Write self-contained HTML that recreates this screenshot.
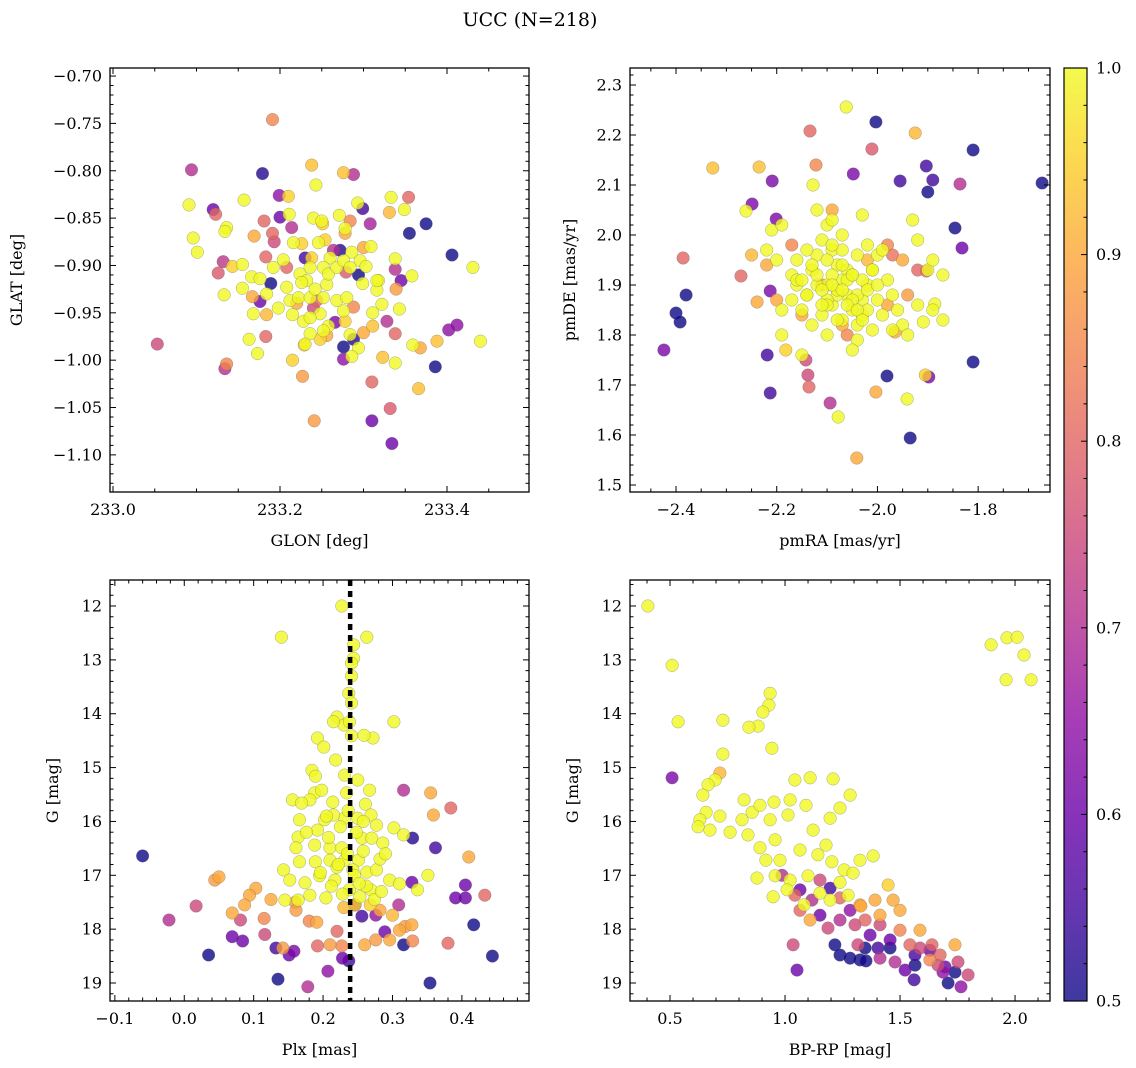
<!DOCTYPE html>
<html><head><meta charset="utf-8">
<style>
html,body{margin:0;padding:0;background:#fff;}
svg{display:block;font-family:"DejaVu Serif","Liberation Serif",serif;}
</style></head>
<body>
<svg id="fig" width="1136" height="1068" viewBox="0 0 1136 1068" xmlns="http://www.w3.org/2000/svg">
<defs>
<linearGradient id="plasmaGrad" x1="0" y1="1" x2="0" y2="0">
<stop offset="0" stop-color="#0d0887"/><stop offset="0.1" stop-color="#41049d"/><stop offset="0.2" stop-color="#6a00a8"/><stop offset="0.3" stop-color="#8f0da4"/><stop offset="0.4" stop-color="#b12a90"/><stop offset="0.5" stop-color="#cc4778"/><stop offset="0.6" stop-color="#e16462"/><stop offset="0.7" stop-color="#f2844b"/><stop offset="0.8" stop-color="#fca636"/><stop offset="0.9" stop-color="#fcce25"/><stop offset="1" stop-color="#f0f921"/>
</linearGradient>
</defs>
<text x="530" y="26" font-size="19" text-anchor="middle">UCC (N=218)</text>
</svg>
<script>
// Panel 1: GLON, GLAT, membership prob
const p1Lon=[233.191,233.094,233.179,233.238,233.243,233.276,233.288,233.091,233.120,233.123,233.157,233.199,233.210,233.200,233.211,233.214,233.181,233.169,233.191,233.193,233.136,233.134,233.096,233.101,233.240,233.250,233.271,233.284,233.278,233.278,233.293,233.299,233.308,233.333,233.354,233.331,233.349,233.375,233.355,233.406,233.431,233.440,233.402,233.412,233.388,233.368,233.359,233.386,233.366,233.338,233.328,233.338,233.323,233.310,233.332,233.310,233.334,233.241,233.227,233.215,233.229,233.173,233.163,233.183,233.136,233.134,233.053,233.133,233.132,233.126,233.143,233.155,233.183,233.192,233.204,233.208,233.230,233.238,233.216,233.226,233.246,233.254,233.251,233.264,233.272,233.286,233.300,233.309,233.296,233.303,233.338,233.338,233.345,233.358,233.294,233.279,233.299,233.318,233.316,233.339,233.189,233.176,233.167,233.155,233.166,233.176,233.168,233.184,233.198,233.215,233.228,233.184,233.208,233.212,233.222,233.236,233.244,233.252,233.256,233.260,233.252,233.236,233.224,233.232,233.242,233.258,233.268,233.276,233.284,233.268,233.280,233.276,233.288,233.278,233.266,233.258,233.252,233.248,233.236,233.236,233.230,233.248,233.256,233.284,233.288,233.294,233.276,233.276,233.286,233.300,233.311,233.311,233.322,233.343,233.316,233.220,233.226,233.240];
const p1Lat=[-0.746,-0.799,-0.803,-0.794,-0.815,-0.802,-0.804,-0.836,-0.841,-0.846,-0.831,-0.826,-0.827,-0.849,-0.846,-0.860,-0.853,-0.869,-0.866,-0.875,-0.860,-0.864,-0.871,-0.886,-0.850,-0.853,-0.847,-0.853,-0.861,-0.866,-0.834,-0.840,-0.856,-0.828,-0.828,-0.844,-0.841,-0.856,-0.866,-0.889,-0.902,-0.980,-0.968,-0.963,-0.980,-0.987,-0.984,-1.007,-1.030,-0.972,-0.959,-1.003,-0.997,-1.023,-1.051,-1.064,-1.088,-1.064,-1.017,-1.000,-0.984,-0.993,-0.978,-0.975,-1.004,-1.009,-0.983,-0.931,-0.896,-0.908,-0.901,-0.899,-0.891,-0.902,-0.894,-0.902,-0.892,-0.892,-0.876,-0.877,-0.876,-0.873,-0.856,-0.884,-0.884,-0.886,-0.881,-0.880,-0.895,-0.901,-0.893,-0.904,-0.916,-0.911,-0.910,-0.907,-0.919,-0.916,-0.926,-0.925,-0.919,-0.938,-0.933,-0.924,-0.912,-0.914,-0.951,-0.952,-0.945,-0.952,-0.959,-0.930,-0.923,-0.937,-0.934,-0.934,-0.937,-0.934,-0.920,-0.892,-0.902,-0.902,-0.909,-0.916,-0.925,-0.909,-0.902,-0.895,-0.902,-0.937,-0.934,-0.948,-0.944,-0.959,-0.960,-0.964,-0.969,-0.951,-0.955,-0.972,-0.983,-0.978,-0.974,-0.973,-0.978,-0.987,-0.986,-0.999,-0.996,-0.971,-0.964,-0.950,-0.941,-0.946,-0.916,-0.940,-0.918,-0.945];
const p1C=[0.85,0.70,0.52,0.93,1,0.93,0.70,1,0.60,0.80,1,0.65,0.95,0.60,1,0.70,0.80,0.90,0.80,0.75,1,1,1,1,1,1,1,0.85,1,0.90,1,0.55,0.68,1,0.80,0.92,1,0.50,0.50,0.50,1,1,0.65,0.65,0.93,0.90,1,0.50,0.93,0.80,0.70,1,0.93,0.80,0.78,0.60,0.60,0.88,0.88,0.95,0.95,1,1,0.80,0.85,0.70,0.75,1,0.72,0.78,0.95,1,0.80,1,1,0.80,0.55,0.95,1,0.95,1,0.95,0.95,0.70,0.52,1,0.90,1,1,1,1,0.70,0.60,1,0.50,0.78,1,1,1,0.88,0.50,0.60,0.90,1,1,1,1,0.92,1,1,1,1,1,1,1,1,0.80,1,1,1,1,1,1,1,1,1,1,1,1,1,1,1,0.85,0.95,0.62,1,1,1,1,1,1,0.95,0.90,1,0.52,1,0.50,0.65,1,0.90,0.93,1,1,1,1,0.90,1,0.75,1];

// Panel 2: pmRA, pmDE
const p2RA=[-2.062,-2.003,-1.925,-2.134,-1.810,-2.011,-2.327,-2.235,-2.122,-2.209,-1.955,-1.903,-1.890,-1.673,-1.836,-1.900,-2.048,-2.128,-2.249,-2.261,-1.846,-1.832,-2.201,-2.386,-2.271,-2.239,-2.213,-2.380,-2.400,-2.392,-2.424,-2.219,-2.213,-2.182,-2.142,-2.138,-2.136,-2.094,-2.078,-2.041,-2.003,-1.981,-1.941,-1.935,-1.905,-1.898,-1.810,-1.903,-1.886,-1.909,-1.965,
-2.22,-2.20,-2.17,-2.16,-2.14,-2.13,-2.12,-2.11,-2.10,-2.09,-2.08,-2.07,-2.06,-2.05,-2.04,-2.03,-2.02,-2.01,-2.00,-1.99,-1.98,-1.97,-1.96,-1.95,-2.09,-2.11,-2.13,-2.15,-2.17,-2.19,-2.10,-2.08,-2.06,-2.04,-2.02,-2.03,-2.07,-2.05,-2.03,-2.01,-1.99,-1.97,-2.12,-2.14,-2.16,-2.10,-2.07,-2.04,-2.00,-2.07,-1.93,-1.92,-1.90,-1.89,-1.89,-1.92,-1.87,-1.94,-1.87,-2.19,-2.15,-2.16,-2.12,-2.09,-2.05,-2.10,-2.02,-2.09,-2.21,-2.19,
-2.08,-2.06,-2.04,-2.10,-2.12,-2.05,-2.03,-2.07,-2.09,-2.11,-2.01,-2.13,-2.06,-2.08,-2.04,-2.02,-2.10,-2.14,-2.00,-2.05,-2.07,-2.11,-2.03,-2.09,-2.15,
-2.17,-2.25,-2.22,-2.15,-2.07,-2.06,-2.11,-1.98,-1.95,-1.98,-1.94,-1.92,-1.97,-2.20,-2.09,-2.02];
const p2DE=[2.256,2.226,2.204,2.208,2.170,2.172,2.134,2.136,2.140,2.108,2.108,2.138,2.110,2.104,2.102,2.086,2.122,2.100,2.062,2.048,2.014,1.974,2.032,1.954,1.918,1.866,1.888,1.880,1.844,1.826,1.770,1.760,1.684,1.770,1.750,1.720,1.696,1.664,1.636,1.554,1.686,1.718,1.672,1.594,1.720,1.716,1.746,1.928,1.862,1.826,1.806,
1.97,1.95,1.92,1.90,1.88,1.93,1.96,1.99,2.02,1.97,1.94,1.91,1.88,1.85,1.82,1.87,1.90,1.93,1.96,1.97,1.91,1.88,1.85,1.82,1.86,1.84,1.82,1.85,1.87,1.85,1.90,1.88,1.93,1.96,1.98,2.04,2.00,1.92,1.84,1.81,1.84,1.81,1.90,1.97,1.95,1.80,1.83,1.79,1.87,1.97,2.03,1.99,1.93,1.95,1.85,1.86,1.83,1.80,1.92,1.80,1.76,1.91,2.05,2.03,1.77,1.87,1.85,1.92,2.01,2.02,
1.89,1.91,1.88,1.86,1.92,1.87,1.91,1.94,1.90,1.89,1.93,1.94,1.86,1.83,1.85,1.89,1.95,1.88,1.90,1.92,1.89,1.86,1.83,1.98,1.91,
1.98,1.96,1.94,1.84,1.82,1.80,1.90,1.98,1.95,1.86,1.88,1.93,1.96,1.87,2.05,1.95];
const p2C=[1,0.50,0.92,0.80,0.50,0.78,0.93,0.93,0.85,0.62,0.55,0.55,0.55,0.50,0.70,0.50,0.62,1,0.62,1,0.50,0.60,0.62,0.80,0.80,0.90,0.62,0.50,0.50,0.50,0.62,0.55,0.55,0.95,0.75,0.75,0.80,0.70,1,0.90,0.90,0.50,1,0.50,0.95,0.62,0.50,0.80,1,1,0.90,
1,1,1,1,1,1,1,1,1,1,1,1,1,1,1,1,1,1,1,1,1,1,1,1,1,1,1,1,1,1,1,1,1,1,1,1,1,1,1,1,1,1,1,1,1,1,1,1,1,1,1,1,1,1,1,1,1,1,1,1,1,1,1,1,1,1,1,1,1,1,
1,1,1,1,1,1,1,1,1,1,1,1,1,1,1,1,1,1,1,1,1,1,1,1,1,
0.85,0.92,0.90,0.90,0.90,0.85,0.88,0.85,0.90,0.90,0.88,0.80,0.82,0.90,0.90,0.92];

// Panel 3: Plx, G
const p3Plx=[0.227,0.140,0.263,0.244,0.244,0.241,0.241,0.237,0.241,0.220,0.230,0.238,0.215,0.302,0.272,0.241,0.259,0.192,0.201,0.184,0.189,0.218,0.188,0.198,0.181,0.156,0.169,0.214,0.231,0.234,0.250,0.267,0.261,0.269,0.250,0.231,0.215,0.202,0.192,0.166,0.164,0.161,0.188,0.210,0.227,0.256,0.270,0.286,0.302,0.316,0.277,0.251,0.231,0.210,0.189,0.166,0.143,0.152,0.174,0.195,0.217,0.243,0.263,0.277,0.296,0.310,0.336,0.351,0.269,0.253,0.238,0.204,0.181,0.164,0.145,
0.225,0.235,0.248,0.258,0.208,0.220,0.245,0.262,0.282,0.196,0.212,0.228,0.252,0.274,0.290,0.176,0.236,0.258,0.222,0.205,0.268,0.284,0.246,0.230,
0.310,0.328,0.296,0.276,0.260,0.210,0.191,0.142,0.300,0.103,0.094,0.069,0.160,0.180,0.282,0.318,0.125,
-0.060,-0.022,0.017,0.035,0.044,0.050,0.069,0.084,0.081,0.087,0.132,0.135,0.151,0.158,0.161,0.178,0.207,0.192,0.220,0.227,0.228,0.237,0.246,0.256,0.276,0.289,0.309,0.328,0.329,0.329,0.362,0.359,0.355,0.316,0.384,0.410,0.405,0.433,0.405,0.417,0.444,0.354,0.316,0.380,0.391,0.115,0.116];
const p3G=[12.00,12.58,12.58,12.72,12.97,13.06,13.30,13.62,13.80,14.06,14.21,14.15,14.15,14.15,14.45,14.41,14.40,14.45,14.62,15.05,15.16,14.86,15.47,15.42,15.60,15.60,15.66,15.64,15.14,15.47,15.23,15.42,15.68,15.88,15.94,15.94,15.88,15.97,16.16,15.97,16.29,16.49,16.44,16.49,16.49,16.31,16.31,16.40,16.12,16.25,16.07,16.72,16.72,16.72,16.75,16.75,16.90,17.09,17.14,17.01,17.09,16.90,16.94,16.90,17.09,17.16,17.27,17.00,17.27,17.40,17.27,17.42,17.37,17.46,17.46,
16.10,16.60,16.20,16.55,16.30,16.85,17.00,17.20,16.70,16.95,17.20,17.35,17.15,17.45,16.60,16.20,15.80,16.00,16.80,15.90,17.55,17.30,17.55,17.60,
18.02,17.92,18.20,18.20,18.29,18.29,17.87,18.35,17.74,17.24,17.37,17.70,17.50,17.85,17.65,17.95,17.45,
16.64,17.83,17.57,18.48,17.09,17.03,18.14,18.22,17.83,17.55,18.35,18.93,18.48,18.41,17.65,19.07,18.78,18.31,18.04,18.31,18.54,18.59,17.55,17.76,17.74,18.05,17.55,17.13,18.22,16.31,16.49,15.88,15.47,15.42,15.75,16.66,17.18,17.37,17.42,17.92,18.50,19.00,18.29,18.26,17.42,17.80,18.10];
const p3C=[1,1,1,1,1,1,1,1,1,1,1,1,1,1,1,1,1,1,1,1,1,1,1,1,1,1,1,1,1,1,1,1,1,1,1,1,1,1,1,1,1,1,1,1,1,1,1,1,1,1,1,1,1,1,1,1,1,1,1,1,1,1,1,1,1,1,1,1,1,1,1,1,1,1,1,
1,1,1,1,1,1,1,1,1,1,1,1,1,1,1,1,1,1,1,1,0.95,1,0.95,0.92,
0.90,0.90,0.90,0.88,0.90,0.88,0.90,0.88,0.92,0.90,0.90,0.90,0.88,0.85,0.90,0.88,0.90,
0.50,0.70,0.75,0.50,0.88,0.90,0.60,0.60,0.75,0.90,0.55,0.50,0.60,0.62,0.88,0.70,0.65,0.80,0.80,0.85,0.60,0.55,0.60,0.55,0.65,0.60,0.70,0.60,0.85,0.52,0.55,0.90,0.90,0.70,0.80,0.90,0.60,0.80,0.60,0.50,0.50,0.50,0.50,0.80,0.60,0.85,0.75];

// Panel 4: BP-RP, G
const p4BR=[0.404,0.509,0.535,0.509,1.896,1.965,2.009,2.039,1.961,2.070,
0.935,0.930,0.904,0.883,0.943,0.843,0.730,0.730,0.717,0.696,0.665,0.643,0.657,0.630,0.622,0.674,0.761,0.717,0.822,0.813,0.839,0.857,0.891,0.952,1.022,1.043,1.109,1.209,1.091,1.013,0.935,0.957,0.891,0.917,0.978,1.065,1.122,1.196,1.239,1.283,1.143,1.178,1.204,1.100,1.022,0.957,0.878,1.009,1.152,1.257,1.239,1.296,1.326,1.383,1.326,1.448,1.470,1.500,0.948,1.083,1.109,1.196,1.274,1.330,1.413,
0.987,1.065,1.152,1.043,1.117,1.196,1.239,1.283,1.348,1.370,1.413,1.457,1.500,1.543,1.587,1.630,1.674,1.696,1.752,1.709,1.765,1.457,1.326,1.348,1.404,1.217,1.239,1.283,1.522,1.565,1.565,1.478,1.413,1.317,1.187,1.304,1.239,1.152,1.065,1.035,1.052,1.391,1.665,1.687,1.739,1.796,1.630,1.587,1.639,1.739,1.561,1.352];
const p4G=[12.00,13.10,14.15,15.19,12.72,12.59,12.58,12.91,13.37,13.37,
13.62,13.84,13.97,14.23,14.64,14.25,14.12,14.75,15.10,15.23,15.32,15.51,15.83,15.97,16.10,16.16,16.20,15.90,15.60,15.97,16.25,15.83,15.70,15.64,15.60,15.23,15.19,15.21,15.70,15.88,15.97,16.34,16.49,16.72,16.72,16.53,16.16,15.94,15.75,15.51,16.62,16.44,16.75,17.01,17.09,17.01,17.05,17.27,17.33,16.90,17.13,16.96,16.72,16.64,17.55,17.18,17.46,17.65,17.40,17.55,17.83,17.46,17.37,17.57,17.74,
17.00,17.27,17.09,17.37,17.46,17.24,17.42,17.65,17.83,18.11,17.92,18.20,18.02,18.29,18.35,18.39,18.48,18.70,18.61,19.00,19.07,18.35,18.57,18.35,18.35,18.29,18.48,18.54,18.76,18.67,18.48,18.61,18.54,18.29,17.98,17.92,17.83,17.74,17.65,18.29,18.76,17.46,18.67,18.80,18.80,18.85,18.57,18.02,18.29,18.29,18.94,18.59];
const p4C=[1,1,1,0.62,1,1,1,1,1,1,
1,1,1,1,1,1,1,1,0.92,1,1,1,1,1,1,1,1,1,1,1,1,1,1,1,1,1,1,1,1,1,1,1,1,1,1,1,1,1,1,1,1,1,1,1,1,1,1,1,1,1,1,1,1,1,0.90,0.95,0.90,0.90,1,1,0.90,1,1,0.90,0.90,
0.70,0.60,0.75,0.80,0.70,0.55,0.80,0.65,0.80,0.60,0.75,0.60,0.85,0.80,0.75,0.60,0.80,0.60,0.75,0.50,0.65,0.50,0.50,0.50,0.55,0.50,0.50,0.50,0.60,0.50,0.55,0.70,0.70,0.75,0.75,0.75,0.70,0.60,0.80,0.75,0.60,0.90,0.75,0.65,0.50,0.75,0.85,0.90,0.80,0.90,0.55,0.50];

const colorbarTicks=[0.5,0.6,0.7,0.8,0.9,1.0];

const NS='http://www.w3.org/2000/svg';
const svg=document.getElementById('fig');
function mk(tag,attrs,parent){const e=document.createElementNS(NS,tag);for(const k in attrs)e.setAttribute(k,attrs[k]);(parent||svg).appendChild(e);return e;}

const stops=[[13,8,135],[65,4,157],[106,0,168],[143,13,164],[177,42,144],[204,71,120],[225,100,98],[242,132,75],[252,166,54],[252,206,37],[240,249,33]];
function plasma(c){let t=(c-0.5)/0.5;t=Math.max(0,Math.min(1,t))*10;const i=Math.min(9,Math.floor(t)),f=t-i;const a=stops[i],b=stops[i+1];return 'rgb('+a.map((v,k)=>Math.round(v+(b[k]-v)*f)).join(',')+')';}

function panel(o){
  const g=mk('g',{});
  
  
  const sx=v=>o.x0+(v-o.xd[0])/(o.xd[1]-o.xd[0])*(o.x1-o.x0);
  const sy=v=>o.inv? o.y0+(v-o.yd[0])/(o.yd[1]-o.yd[0])*(o.y1-o.y0) : o.y1-(v-o.yd[0])/(o.yd[1]-o.yd[0])*(o.y1-o.y0);
  const pg=mk('g',{},g);
  
  
  const n=Math.min(o.xs.length,o.ys.length,o.c.length);
  const idx=[];for(let i=0;i<n;i++){if(isFinite(o.xs[i])&&isFinite(o.ys[i])&&isFinite(o.c[i]))idx.push(i);}
  idx.sort((a,b)=>o.c[a]-o.c[b]);
  idx.forEach(i=>{
    const c=mk('circle',{cx:sx(o.xs[i]).toFixed(1),cy:sy(o.ys[i]).toFixed(1),r:6.3,fill:plasma(o.c[i]),'fill-opacity':0.8,stroke:'#666','stroke-width':0.4,'stroke-opacity':0.7},pg);
    
    
  });
  if(o.vline!==undefined){
    const l=mk('line',{x1:sx(o.vline),x2:sx(o.vline),y1:o.y0,y2:o.y1,stroke:'#000','stroke-width':4.5,'stroke-dasharray':'6,5'},g);
    
    
  }
  const tg=mk('g',{stroke:'#000','stroke-width':1},g);
  const eps=1e-9;
  for(let v=Math.ceil(o.xd[0]/o.xmin-eps)*o.xmin; v<=o.xd[1]+eps; v+=o.xmin){
    const X=sx(v); const major=Math.abs(v/o.xmaj-Math.round(v/o.xmaj))<1e-6; const L=major?6:3.5;
    mk('line',{x1:X,x2:X,y1:o.y1,y2:o.y1-L},tg); mk('line',{x1:X,x2:X,y1:o.y0,y2:o.y0+L},tg);
    if(major){const t=mk('text',{x:X,y:o.y1+23,'font-size':16,'text-anchor':'middle',stroke:'none',fill:'#000'},g);t.textContent=o.xfmt(v);
      }
  }
  for(let v=Math.ceil(o.yd[0]/o.ymin-eps)*o.ymin; v<=o.yd[1]+eps; v+=o.ymin){
    const Y=sy(v); const major=Math.abs(v/o.ymaj-Math.round(v/o.ymaj))<1e-6; const L=major?6:3.5;
    mk('line',{x1:o.x0,x2:o.x0+L,y1:Y,y2:Y},tg); mk('line',{x1:o.x1,x2:o.x1-L,y1:Y,y2:Y},tg);
    if(major){const t=mk('text',{x:o.x0-8,y:Y+5.5,'font-size':16,'text-anchor':'end',stroke:'none',fill:'#000'},g);t.textContent=o.yfmt(v);
      }
  }
  const fr=mk('rect',{x:o.x0,y:o.y0,width:o.x1-o.x0,height:o.y1-o.y0,fill:'none',stroke:'#000','stroke-width':1.3},g);
  
  
  const xl=mk('text',{x:(o.x0+o.x1)/2,y:o.y1+54,'font-size':16,'text-anchor':'middle'},g);xl.textContent=o.xlab;
  
  const yl=mk('text',{x:0,y:0,'font-size':16,'text-anchor':'middle',transform:'translate('+o.ylx+','+(o.y0+o.y1)/2+') rotate(-90)'},g);yl.textContent=o.ylab;
  
}
const f=(d)=>v=>{let s=v.toFixed(d);if(s.startsWith('-'))s='\u2212'+s.slice(1);if(s==='\u22120.0')s='0.0';return s;};

panel({name:'glon-glat-panel',x0:110,x1:529,y0:68,y1:492,xd:[232.9964,233.4982],yd:[-1.1392,-0.6915],xs:p1Lon,ys:p1Lat,c:p1C,xmaj:0.2,xmin:0.05,ymaj:0.05,ymin:0.01,xfmt:v=>v.toFixed(1),yfmt:f(2),xlab:'GLON [deg]',ylab:'GLAT [deg]',ylx:22});
panel({name:'proper-motion-panel',x0:630,x1:1050,y0:68,y1:492,xd:[-2.4914,-1.6573],yd:[1.486,2.334],xs:p2RA,ys:p2DE,c:p2C,xmaj:0.2,xmin:0.05,ymaj:0.1,ymin:0.02,xfmt:f(1),yfmt:f(1),xlab:'pmRA [mas/yr]',ylab:'pmDE [mas/yr]',ylx:575});
panel({name:'parallax-magnitude-panel',x0:110,x1:529,y0:580,y1:1001,xd:[-0.107,0.4967],yd:[11.517,19.334],inv:true,xs:p3Plx,ys:p3G,c:p3C,xmaj:0.1,xmin:0.02,ymaj:1,ymin:0.2,xfmt:f(1),yfmt:v=>v.toFixed(0),xlab:'Plx [mas]',ylab:'G [mag]',ylx:58,vline:0.239});
panel({name:'color-magnitude-panel',x0:630,x1:1050,y0:580,y1:1001,xd:[0.326,2.152],yd:[11.517,19.334],inv:true,xs:p4BR,ys:p4G,c:p4C,xmaj:0.5,xmin:0.1,ymaj:1,ymin:0.2,xfmt:f(1),yfmt:v=>v.toFixed(0),xlab:'BP-RP [mag]',ylab:'G [mag]',ylx:578});

const cb=mk('g',{});


const cbx0=1064,cbx1=1087,cby0=68,cby1=1001;
const cr=mk('rect',{x:cbx0,y:cby0,width:cbx1-cbx0,height:cby1-cby0,fill:'url(#plasmaGrad)','fill-opacity':0.8,stroke:'#000','stroke-width':1.2},cb);


const cy=v=>cby1-(v-0.5)/0.5*(cby1-cby0);
for(let k=0;k<=25;k++){const v=0.5+k*0.02;const Y=cy(v);const major=k%5===0;
  mk('line',{x1:cbx1,x2:cbx1-(major?6:3.5),y1:Y,y2:Y,stroke:'#000','stroke-width':1},cb);}
colorbarTicks.forEach(v=>{const t=mk('text',{x:cbx1+9,y:cy(v)+5.5,'font-size':16},cb);t.textContent=v.toFixed(1);
  });
</script>
</body></html>
